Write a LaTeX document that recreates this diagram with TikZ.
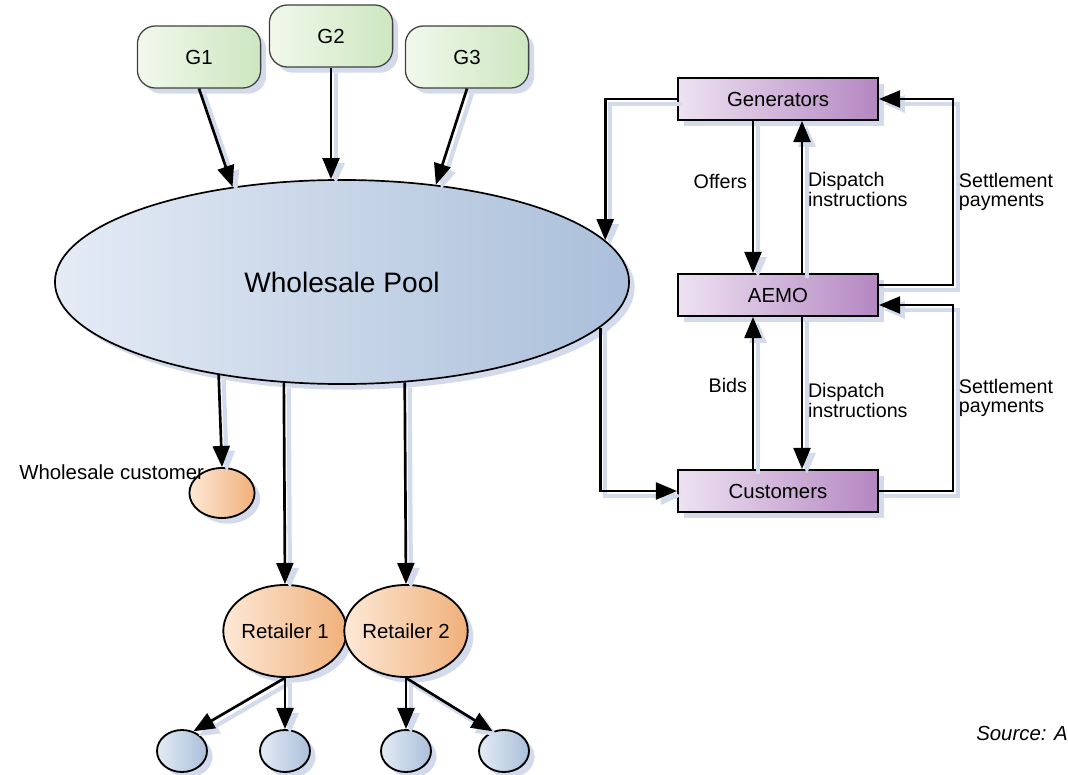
\documentclass[tikz,border=0pt]{standalone}
\usepackage{fontspec}
\setmainfont{Liberation Sans}
\usetikzlibrary{arrows.meta, positioning, shapes.geometric, shadows, calc}

\definecolor{genlight}{HTML}{F1F9EC}
\definecolor{gendark}{HTML}{CDE6C0}
\definecolor{poollight}{HTML}{E4EBF5}
\definecolor{pooldark}{HTML}{AABFDA}
\definecolor{orglight}{HTML}{FDE8D6}
\definecolor{orgdark}{HTML}{F0B07A}
\definecolor{purplight}{HTML}{EEE2F2}
\definecolor{purpdark}{HTML}{B487C2}
\definecolor{shadowc}{HTML}{D3DAEC}

\begin{document}
\begin{tikzpicture}[
        x=0.025cm, y=-0.025cm,
        shadowed/.style={drop shadow={shadow xshift=4pt, shadow yshift=-4pt, fill=shadowc, opacity=1}},
        gen/.style={draw=black!75, line width=0.9pt, rounded corners=0.45cm, minimum width=3.08cm, minimum height=1.55cm, inner sep=0, left color=genlight, right color=gendark, shadowed, font=\fontsize{14.5}{14.5}\selectfont},
        pool/.style={draw, line width=1.2pt, ellipse, minimum width=14.35cm, minimum height=5.1cm, inner sep=0, left color=poollight, right color=pooldark, shadowed, font=\fontsize{20}{20}\selectfont},
        party/.style={draw, line width=1.3pt, rectangle, minimum width=5cm, minimum height=1.05cm, inner sep=0, left color=purplight, right color=purpdark, shadowed, font=\fontsize{14.5}{14.5}\selectfont},
        retail/.style={draw, line width=1.3pt, ellipse, inner sep=0, left color=orglight, right color=orgdark, shadowed, font=\fontsize{14.5}{14.5}\selectfont},
        leaf/.style={draw, line width=1.3pt, ellipse, minimum width=1.25cm, minimum height=1.05cm, inner sep=0, left color=poollight, right color=pooldark, shadowed},
        lbl/.style={font=\fontsize{14.5}{14.5}\selectfont, inner sep=0},
        cast/.style={preaction={draw=shadowc, line width=3pt, transform canvas={shift={(3.5pt,-3.5pt)}}}},
        arrow/.style={line width=1.9pt, -{Triangle[length=15pt, width=12pt]}, cast, font=\fontsize{14}{14}\selectfont}
    ]
        \useasboundingbox (0,0) rectangle (1068,775);

        \node[gen] (g1) at (199,57) {G1};
        \node[gen] (g2) at (331,36) {G2};
        \node[gen] (g3) at (467,57) {G3};

        \node[pool] (pool) at (342,282) {Wholesale Pool};

        \node[retail, minimum width=1.63cm, minimum height=1.25cm] (wc) at (222,493) {};
        \node[lbl, anchor=east] (wclabel) at ([xshift=0.15cm, yshift=0.05cm]wc.north west) {Wholesale customer};

        \node[retail, minimum width=2.8cm, minimum height=2.3cm] (r1) at (285,631) {Retailer 1};
        \node[retail, minimum width=2.8cm, minimum height=2.3cm] (r2) at (406,631) {Retailer 2};

        \node[leaf] (leaf1) at (182,751) {};
        \node[leaf] (leaf2) at (285,751) {};
        \node[leaf] (leaf3) at (406,751) {};
        \node[leaf] (leaf4) at (504,751) {};

        \node[party] (gen) at (778,99) {Generators};
        \node[party] (aemo) at (778,295) {AEMO};
        \node[party] (cust) at (778,491) {Customers};

        \node[lbl, anchor=east, font=\fontsize{14.5}{14.5}\itshape] (src) at (1068,733) {Source: A};

        \draw[arrow] (g1.south) -- (pool.139.5);
        \draw[arrow] (g2.south) -- (g2.south |- pool.north);
        \draw[arrow] (g3.south) -- (pool.46.1);

        \draw[arrow] (pool.217.7) -- (wc.north);
        \draw[arrow] (pool.240.3) -- (r1.north);
        \draw[arrow] (pool.302.8) -- (r2.north);

        \draw[arrow] (r1.south) -- (leaf1.60);
        \draw[arrow] (r1.south) -- (leaf2.north);
        \draw[arrow] (r2.south) -- (leaf3.north);
        \draw[arrow] (r2.south) -- (leaf4.120);

        \draw[arrow] (gen.west) -| (pool.9.2);
        \draw[arrow] (pool.350.8) |- (cust.west);

        \draw[arrow] ([xshift=-0.625cm]gen.south) -- node[pos=0.4, left] {Offers} ([xshift=-0.625cm]aemo.north);
        \draw[arrow] ([xshift=0.6cm]aemo.north) -- node[pos=0.55, right, align=left] {Dispatch\\instructions} ([xshift=0.6cm]gen.south);
        \draw[arrow] ([xshift=-0.625cm]cust.north) -- node[pos=0.55, left] {Bids} ([xshift=-0.625cm]aemo.south);
        \draw[arrow] ([xshift=0.6cm]aemo.south) -- node[pos=0.55, right, align=left] {Dispatch\\instructions} ([xshift=0.6cm]cust.north);

        \draw[arrow] ([yshift=0.25cm]aemo.east) -- ++(74,0) |- node[pos=0.25, right, align=left] {Settlement\\payments} (gen.east);
        \draw[arrow] (cust.east) -- ++(74,0) |- node[pos=0.25, right, align=left] {Settlement\\payments} ([yshift=-0.25cm]aemo.east);

    \end{tikzpicture}
\end{document}
